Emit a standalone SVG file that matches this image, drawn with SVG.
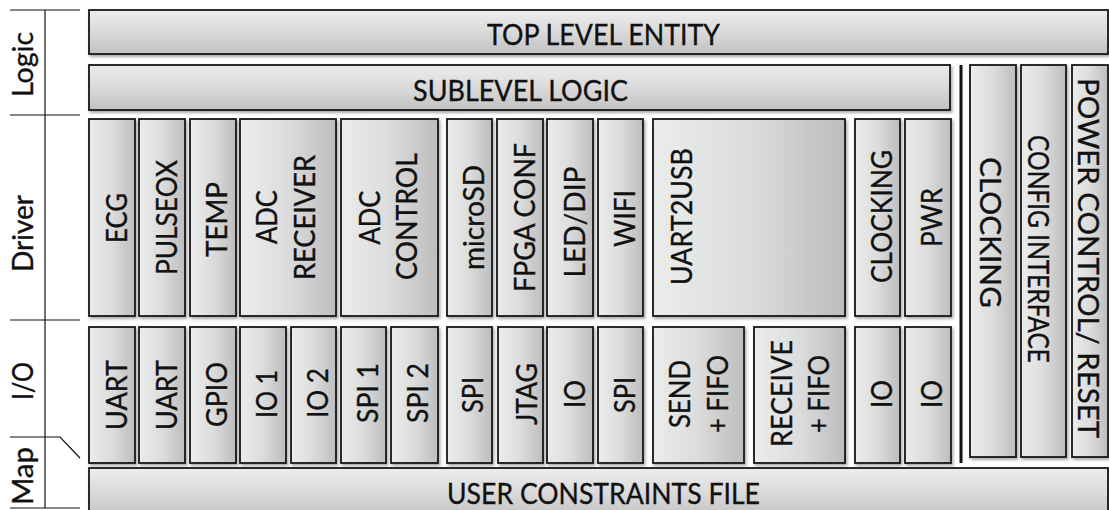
<svg xmlns="http://www.w3.org/2000/svg" width="1109" height="510" viewBox="0 0 1109 510">
<defs>
<linearGradient id="gv" x1="0" y1="0" x2="1" y2="0">
<stop offset="0" stop-color="#ebecec"/>
<stop offset="0.5" stop-color="#dcdcdc"/>
<stop offset="1" stop-color="#bdbdbd"/>
</linearGradient>
<linearGradient id="gh" x1="0" y1="0" x2="0" y2="1">
<stop offset="0" stop-color="#eceded"/>
<stop offset="0.5" stop-color="#dadada"/>
<stop offset="1" stop-color="#c2c2c2"/>
</linearGradient>
<filter id="sh" x="-20%" y="-20%" width="140%" height="140%">
<feDropShadow dx="1.5" dy="2" stdDeviation="1.5" flood-color="#000" flood-opacity="0.35"/>
</filter>
</defs>
<style>
.v{fill:url(#gv);stroke:#151515;stroke-width:1.8;filter:url(#sh)}
.h{fill:url(#gh);stroke:#151515;stroke-width:1.8;filter:url(#sh)}
text{font-family:Lato,"Open Sans","Liberation Sans",sans-serif;font-size:28.5px;fill:#111;stroke:#111;stroke-width:0.35;text-anchor:middle}
.ax{stroke:#111;stroke-width:1.2;fill:none}
</style>
<rect width="1109" height="510" fill="#fff"/>

<g id="scale">
<line class="ax" x1="45" y1="10" x2="45" y2="508"/>
<line class="ax" x1="10" y1="10" x2="80" y2="10"/>
<line class="ax" x1="10" y1="115" x2="80" y2="115"/>
<line class="ax" x1="10" y1="320" x2="80" y2="320"/>
<polyline class="ax" points="10,437 60,437 80,458"/>
<line class="ax" x1="10" y1="508" x2="80" y2="508"/>
<text transform="translate(33,64.5) rotate(-90)" textLength="65" lengthAdjust="spacingAndGlyphs">Logic</text>
<text transform="translate(33,233.5) rotate(-90)" textLength="77" lengthAdjust="spacingAndGlyphs">Driver</text>
<text transform="translate(33,381) rotate(-90)" textLength="38" lengthAdjust="spacingAndGlyphs">I/O</text>
<text transform="translate(33,476) rotate(-90)" textLength="58" lengthAdjust="spacingAndGlyphs">Map</text>
</g>

<g id="connectors">
<line x1="961" y1="65" x2="961" y2="463" stroke="#111" stroke-width="3"/>
</g>

<g id="top-level-entity">
<rect class="h" x="89" y="10" width="1019" height="44"/>
<text x="603.5" y="45" textLength="233" lengthAdjust="spacingAndGlyphs">TOP LEVEL ENTITY</text>
</g>
<g id="sublevel-logic">
<rect class="h" x="89" y="65" width="861" height="45"/>
<text x="520.5" y="101" textLength="215" lengthAdjust="spacingAndGlyphs">SUBLEVEL LOGIC</text>
</g>
<g id="ucf">
<rect class="h" x="89" y="468" width="1019" height="50"/>
<text x="603.5" y="504" textLength="313" lengthAdjust="spacingAndGlyphs">USER CONSTRAINTS FILE</text>
</g>

<!-- Driver row -->
<g id="drv-ecg"><rect class="v" x="89" y="119" width="46" height="197"/>
<text transform="translate(127,218) rotate(-90)" textLength="50" lengthAdjust="spacingAndGlyphs">ECG</text></g>
<g id="drv-pulseox"><rect class="v" x="139" y="119" width="46" height="197"/>
<text transform="translate(177,217.5) rotate(-90)" textLength="115" lengthAdjust="spacingAndGlyphs">PULSEOX</text></g>
<g id="drv-temp"><rect class="v" x="190" y="119" width="46" height="197"/>
<text transform="translate(227,219.5) rotate(-90)" textLength="75" lengthAdjust="spacingAndGlyphs">TEMP</text></g>
<g id="drv-adc-receiver"><rect class="v" x="240" y="119" width="96" height="197"/>
<text transform="translate(277,217) rotate(-90)" textLength="54" lengthAdjust="spacingAndGlyphs">ADC</text>
<text transform="translate(315,217.5) rotate(-90)" textLength="125" lengthAdjust="spacingAndGlyphs">RECEIVER</text></g>
<g id="drv-adc-control"><rect class="v" x="341" y="119" width="97" height="197"/>
<text transform="translate(380,217.5) rotate(-90)" textLength="54" lengthAdjust="spacingAndGlyphs">ADC</text>
<text transform="translate(417,216.5) rotate(-90)" textLength="127" lengthAdjust="spacingAndGlyphs">CONTROL</text></g>
<g id="drv-microsd"><rect class="v" x="447" y="119" width="45" height="197"/>
<text transform="translate(484,217.5) rotate(-90)" textLength="105" lengthAdjust="spacingAndGlyphs">microSD</text></g>
<g id="drv-fpga-conf"><rect class="v" x="497" y="119" width="46" height="197"/>
<text transform="translate(535,217.5) rotate(-90)" textLength="149" lengthAdjust="spacingAndGlyphs">FPGA CONF</text></g>
<g id="drv-led-dip"><rect class="v" x="547" y="119" width="46" height="197"/>
<text transform="translate(585,222) rotate(-90)" textLength="111" lengthAdjust="spacingAndGlyphs">LED/DIP</text></g>
<g id="drv-wifi"><rect class="v" x="598" y="119" width="45" height="197"/>
<text transform="translate(635,218.5) rotate(-90)" textLength="57" lengthAdjust="spacingAndGlyphs">WIFI</text></g>
<g id="drv-uart2usb"><rect class="v" x="653" y="119" width="192" height="197"/>
<text transform="translate(692,216.5) rotate(-90)" textLength="137" lengthAdjust="spacingAndGlyphs">UART2USB</text></g>
<g id="drv-clocking"><rect class="v" x="855" y="119" width="45" height="197"/>
<text transform="translate(892,216.5) rotate(-90)" textLength="133" lengthAdjust="spacingAndGlyphs">CLOCKING</text></g>
<g id="drv-pwr"><rect class="v" x="905" y="119" width="46" height="197"/>
<text transform="translate(942,217.5) rotate(-90)" textLength="59" lengthAdjust="spacingAndGlyphs">PWR</text></g>

<!-- I/O row -->
<g id="io-uart1"><rect class="v" x="89" y="327" width="46" height="136"/>
<text transform="translate(127,395) rotate(-90)" textLength="70" lengthAdjust="spacingAndGlyphs">UART</text></g>
<g id="io-uart2"><rect class="v" x="139" y="327" width="46" height="136"/>
<text transform="translate(177,395) rotate(-90)" textLength="70" lengthAdjust="spacingAndGlyphs">UART</text></g>
<g id="io-gpio"><rect class="v" x="190" y="327" width="46" height="136"/>
<text transform="translate(227,394.5) rotate(-90)" textLength="65" lengthAdjust="spacingAndGlyphs">GPIO</text></g>
<g id="io-io1"><rect class="v" x="240" y="327" width="46" height="136"/>
<text transform="translate(277,394) rotate(-90)" textLength="48" lengthAdjust="spacingAndGlyphs">IO 1</text></g>
<g id="io-io2"><rect class="v" x="291" y="327" width="45" height="136"/>
<text transform="translate(328,393) rotate(-90)" textLength="50" lengthAdjust="spacingAndGlyphs">IO 2</text></g>
<g id="io-spi1"><rect class="v" x="341" y="327" width="45" height="136"/>
<text transform="translate(378,393) rotate(-90)" textLength="60" lengthAdjust="spacingAndGlyphs">SPI 1</text></g>
<g id="io-spi2"><rect class="v" x="391" y="327" width="47" height="136"/>
<text transform="translate(428,393) rotate(-90)" textLength="60" lengthAdjust="spacingAndGlyphs">SPI 2</text></g>
<g id="io-spi-sd"><rect class="v" x="447" y="327" width="45" height="136"/>
<text transform="translate(483,395) rotate(-90)" textLength="36" lengthAdjust="spacingAndGlyphs">SPI</text></g>
<g id="io-jtag"><rect class="v" x="498" y="327" width="45" height="136"/>
<text transform="translate(537,394) rotate(-90)" textLength="62" lengthAdjust="spacingAndGlyphs">JTAG</text></g>
<g id="io-io-led"><rect class="v" x="547" y="327" width="46" height="136"/>
<text transform="translate(585,394) rotate(-90)" textLength="28" lengthAdjust="spacingAndGlyphs">IO</text></g>
<g id="io-spi-wifi"><rect class="v" x="598" y="327" width="45" height="136"/>
<text transform="translate(635,395) rotate(-90)" textLength="36" lengthAdjust="spacingAndGlyphs">SPI</text></g>
<g id="io-send-fifo"><rect class="v" x="653" y="327" width="91" height="136"/>
<text transform="translate(690,394) rotate(-90)" textLength="68" lengthAdjust="spacingAndGlyphs">SEND</text>
<text transform="translate(728,394) rotate(-90)" textLength="78" lengthAdjust="spacingAndGlyphs">+ FIFO</text></g>
<g id="io-receive-fifo"><rect class="v" x="754" y="327" width="91" height="136"/>
<text transform="translate(792,393.5) rotate(-90)" textLength="107" lengthAdjust="spacingAndGlyphs">RECEIVE</text>
<text transform="translate(829,394) rotate(-90)" textLength="78" lengthAdjust="spacingAndGlyphs">+ FIFO</text></g>
<g id="io-io-clk"><rect class="v" x="855" y="327" width="45" height="136"/>
<text transform="translate(892,394) rotate(-90)" textLength="28" lengthAdjust="spacingAndGlyphs">IO</text></g>
<g id="io-io-pwr"><rect class="v" x="905" y="327" width="46" height="136"/>
<text transform="translate(942,394) rotate(-90)" textLength="28" lengthAdjust="spacingAndGlyphs">IO</text></g>

<!-- Right column -->
<g id="clocking"><rect class="v" x="970" y="65" width="46" height="392"/>
<text transform="translate(980,232.5) rotate(90)" textLength="151" lengthAdjust="spacingAndGlyphs">CLOCKING</text></g>
<g id="config-interface"><rect class="v" x="1021" y="65" width="45" height="392"/>
<text transform="translate(1028,249) rotate(90)" textLength="228" lengthAdjust="spacingAndGlyphs">CONFIG INTERFACE</text></g>
<g id="power-control-reset"><rect class="v" x="1072" y="65" width="36" height="392"/>
<text transform="translate(1078,258) rotate(90)" textLength="360" lengthAdjust="spacingAndGlyphs">POWER CONTROL/ RESET</text></g>
</svg>
